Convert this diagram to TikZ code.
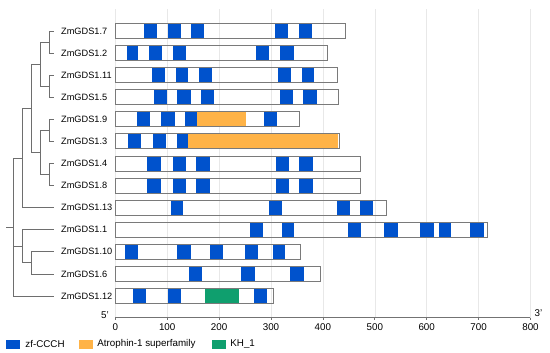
\documentclass[tikz,border=0pt]{standalone}
\usepackage{fontspec}
\setmainfont{Liberation Sans}
\usepackage{xcolor}
\definecolor{zfblue}{HTML}{0052CC}
\definecolor{atrorange}{HTML}{FFB347}
\definecolor{khgreen}{HTML}{0F9F6E}
\definecolor{boxgray}{HTML}{7A7A7A}
\definecolor{treegray}{HTML}{6E6E6E}
\usepackage{tikz}
\usetikzlibrary{positioning}
\tikzset{
  glabel/.style ={anchor=west, inner xsep=7pt, inner ysep=1pt, font=\fontsize{9.2}{11}\selectfont},
  tree/.style   ={draw=treegray, line width=0.8pt},
  gbox/.style   ={draw=boxgray, line width=0.9pt},
  gridln/.style ={draw=black!9, line width=0.6pt},
  axisln/.style ={draw=black!55, line width=0.8pt},
  ticklab/.style={font=\fontsize{9.8}{11}\selectfont, inner sep=1pt},
  legsq/.style  ={minimum width=14pt, minimum height=9pt, inner sep=0pt},
  legtxt/.style ={font=\fontsize{9.8}{11}\selectfont, inner sep=0pt},
}
% one gene: row y, length (aa), list of domains start/end/colour
\newcommand{\genebar}[3]{%
  \foreach \a/\b/\c in {#3}{\fill[fill=\c] (\a,#1-7.5) rectangle (\b,#1+7.5);}
  \draw[gbox] (0,#1-7.5) rectangle (#2,#1+7.5);}

\begin{document}
\begin{tikzpicture}[x=1pt, y=-1pt]
  \useasboundingbox (0,0) rectangle (550,353);

  % gene labels
  \node[glabel] (g1)  at (54,31.0)  {ZmGDS1.7};
  \node[glabel] (g2)  at (54,53.1)  {ZmGDS1.2};
  \node[glabel] (g3)  at (54,75.2)  {ZmGDS1.11};
  \node[glabel] (g4)  at (54,97.2)  {ZmGDS1.5};
  \node[glabel] (g5)  at (54,119.3) {ZmGDS1.9};
  \node[glabel] (g6)  at (54,141.4) {ZmGDS1.3};
  \node[glabel] (g7)  at (54,163.5) {ZmGDS1.4};
  \node[glabel] (g8)  at (54,185.6) {ZmGDS1.8};
  \node[glabel] (g9)  at (54,207.6) {ZmGDS1.13};
  \node[glabel] (g10) at (54,229.7) {ZmGDS1.1};
  \node[glabel] (g11) at (54,251.8) {ZmGDS1.10};
  \node[glabel] (g12) at (54,273.9) {ZmGDS1.6};
  \node[glabel] (g13) at (54,296.0) {ZmGDS1.12};

  % tree
  \coordinate (n12)   at (49.3,42.05);
  \coordinate (n34)   at (49.3,86.2);
  \coordinate (n56)   at (49.3,130.35);
  \coordinate (n78)   at (49.3,174.55);
  \coordinate (nA)    at (40,64.1);
  \coordinate (nB)    at (40,152.45);
  \coordinate (nC)    at (31,108.3);
  \coordinate (nD)    at (22.3,158);
  \coordinate (n1112) at (31,262.85);
  \coordinate (nE)    at (22.3,246.3);
  \coordinate (root)  at (13.3,227);
  \coordinate (stub)  at (6,227);
  \draw[tree] (n12) |- (g1.west) (n12) |- (g2.west);
  \draw[tree] (n34) |- (g3.west) (n34) |- (g4.west);
  \draw[tree] (n56) |- (g5.west) (n56) |- (g6.west);
  \draw[tree] (n78) |- (g7.west) (n78) |- (g8.west);
  \draw[tree] (nA) |- (n12) (nA) |- (n34);
  \draw[tree] (nB) |- (n56) (nB) |- (n78);
  \draw[tree] (nC) |- (nA) (nC) |- (nB);
  \draw[tree] (nD) |- (nC) (nD) |- (g9.west);
  \draw[tree] (n1112) |- (g11.west) (n1112) |- (g12.west);
  \draw[tree] (nE) |- (g10.west) (nE) |- (n1112);
  \draw[tree] (root) |- (nD) (root) |- (nE) (root) |- (g13.west);
  \draw[tree] (stub) -- (root);

  % domain map, 0 aa at x = 115.3
  \begin{scope}[xshift=115.3pt, x=0.519pt]
    \foreach \v in {0,100,...,800}
      \draw[gridln] (\v,9.3) -- (\v,317.7);
    \genebar{31.0}{444}{56/80/zfblue, 101/126/zfblue, 146/171/zfblue, 307/332/zfblue, 353/379/zfblue}
    \genebar{53.1}{408}{22/44/zfblue, 65/90/zfblue, 112/136/zfblue, 272/297/zfblue, 318/344/zfblue}
    \genebar{75.2}{428}{70/96/zfblue, 116/141/zfblue, 161/187/zfblue, 313/339/zfblue, 359/383/zfblue}
    \genebar{97.2}{430}{74/100/zfblue, 119/145/zfblue, 165/191/zfblue, 317/342/zfblue, 362/388/zfblue}
    \genebar{119.3}{355}{42/67/zfblue, 89/115/zfblue, 134/158/zfblue, 158/251/atrorange, 286/312/zfblue}
    \genebar{141.4}{432}{24/50/zfblue, 72/98/zfblue, 118/141/zfblue, 141/430/atrorange}
    \genebar{163.5}{472}{62/88/zfblue, 111/137/zfblue, 156/182/zfblue, 309/334/zfblue, 354/380/zfblue}
    \genebar{185.6}{472}{62/88/zfblue, 111/137/zfblue, 156/182/zfblue, 309/334/zfblue, 354/380/zfblue}
    \genebar{207.6}{523}{107/131/zfblue, 297/322/zfblue, 427/452/zfblue, 472/497/zfblue}
    \genebar{229.7}{717}{260/285/zfblue, 322/345/zfblue, 448/474/zfblue, 518/545/zfblue, 588/614/zfblue, 624/647/zfblue, 684/710/zfblue}
    \genebar{251.8}{356}{18/44/zfblue, 119/145/zfblue, 182/208/zfblue, 249/274/zfblue, 304/327/zfblue}
    \genebar{273.9}{395}{142/168/zfblue, 243/269/zfblue, 337/363/zfblue}
    \genebar{296.0}{305}{35/59/zfblue, 101/127/zfblue, 173/238/khgreen, 268/293/zfblue}
    % axis
    \draw[axisln] (0,317.7) -- (800,317.7);
    \foreach \v in {0,100,...,800}{
      \draw[axisln] (\v,317.7) -- (\v,320.2);
      \node[ticklab] (x\v) at (\v,327) {\v};
    }
  \end{scope}
  \node[ticklab, anchor=east] (end5) at (110,315.5) {5’};
  \node[ticklab, anchor=west] (end3) at (533.5,313.5) {3’};

  % legend
  \node[legsq, fill=zfblue]    (kzf)  at (13,344)   {};
  \node[legtxt, right=5pt of kzf]   (tzf)  {zf-CCCH};
  \node[legsq, fill=atrorange] (katr) at (85.5,344) {};
  \node[legtxt, right=4.5pt of katr] (tatr) {Atrophin-1 superfamily};
  \node[legsq, fill=khgreen]   (kkh)  at (219,344)  {};
  \node[legtxt, right=4pt of kkh]   (tkh)  {KH\_1};
\end{tikzpicture}
\end{document}
